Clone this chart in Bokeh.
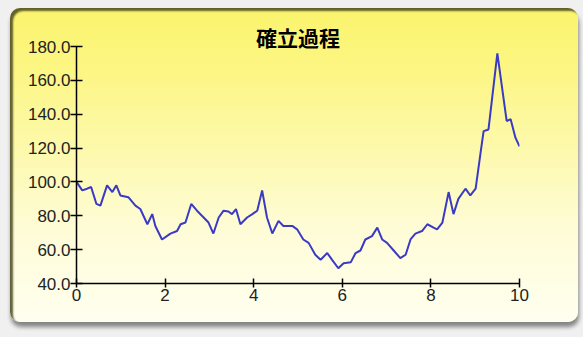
from bokeh.plotting import figure
from bokeh.models import Range1d, FixedTicker, PrintfTickFormatter, Column
from bokeh.embed import file_html
from bokeh.resources import INLINE

# Sample path of the process
t_values = [0, 0.13, 0.24, 0.33, 0.45, 0.54, 0.69, 0.81, 0.90, 0.99,
            1.17, 1.33, 1.44, 1.60, 1.71, 1.78, 1.93, 2.12, 2.27, 2.35,
            2.46, 2.59, 2.72, 2.87, 2.98, 3.09, 3.21, 3.32, 3.43, 3.51,
            3.60, 3.70, 3.85, 3.97, 4.08, 4.19, 4.30, 4.42, 4.56, 4.67,
            4.87, 4.98, 5.12, 5.24, 5.39, 5.51, 5.66, 5.77, 5.91, 6.03,
            6.19, 6.30, 6.41, 6.52, 6.67, 6.79, 6.90, 7.01, 7.16, 7.31,
            7.43, 7.54, 7.65, 7.80, 7.92, 8.06, 8.14, 8.26, 8.40, 8.51,
            8.62, 8.78, 8.89, 9.01, 9.12, 9.19, 9.30, 9.50, 9.71, 9.80,
            9.91, 10.0]
path_values = [100, 95, 96, 97, 87, 86, 98, 94, 98, 92,
               91, 86, 84, 75, 81, 74, 66, 69.5, 71, 75,
               76, 87, 83, 79, 76, 69.5, 79, 83, 82.5, 81,
               84, 75, 79, 81, 83, 95, 79, 69.5, 77, 74,
               74, 72, 66, 64, 57, 54, 58, 54, 49, 52,
               52.5, 58, 59.5, 66, 68, 73, 66, 64, 59.5, 55,
               57, 66, 69.5, 71, 75, 73, 72, 76, 94, 81,
               90, 96, 92, 96, 117, 130, 131, 176, 136, 137,
               126, 121]

x_ticks = [0, 2, 4, 6, 8, 10]
y_ticks = [40, 60, 80, 100, 120, 140, 160, 180]
title_text = "確立過程"

p = figure(width=568, height=314, output_backend="svg", toolbar_location=None,
           x_range=Range1d(0, 10), y_range=Range1d(40, 180),
           min_border_left=66, min_border_right=59,
           min_border_top=38, min_border_bottom=39,
           margin=(8, 5, 15, 10))

p.title.text = title_text
p.title.align = "center"
p.title.text_font = "Noto Sans CJK JP"
p.title.text_font_style = "bold"
p.title.text_font_size = "21px"
p.title.text_color = "#000000"
p.title.standoff = -10

p.border_fill_color = None
p.background_fill_color = None
p.outline_line_color = None
p.grid.visible = False

p.styles = {
    "border-radius": "10px",
    "background": "linear-gradient(to bottom, #fbf46c 0%, #fcf684 20%, #fdf9ac 45%, #fefcd6 70%, #fffff0 100%)",
    "box-shadow": "inset 3px 3px 2px rgba(70, 70, 30, 0.85), 1px 5px 4px rgba(0, 0, 0, 0.45)",
}

p.line(t_values, path_values, line_color="#3a3ac4", line_width=2)

for ax in (p.xaxis[0], p.yaxis[0]):
    ax.axis_line_color = "#000000"
    ax.axis_line_width = 1.5
    ax.major_tick_line_color = "#000000"
    ax.major_tick_line_width = 1.5
    ax.minor_tick_line_color = None
    ax.major_label_text_font = "Liberation Sans"
    ax.major_label_text_font_size = "17px"
    ax.major_label_text_color = "#222222"

p.xaxis.ticker = FixedTicker(ticks=x_ticks)
p.xaxis.major_tick_in = 5
p.xaxis.major_tick_out = 4
p.xaxis.major_label_standoff = 1

p.yaxis.ticker = FixedTicker(ticks=y_ticks)
p.yaxis.formatter = PrintfTickFormatter(format="%.1f")
p.yaxis.major_tick_in = 6
p.yaxis.major_tick_out = 6
p.yaxis.major_label_standoff = 0

page = Column(children=[p], width=583, height=337,
              styles={"background": "#f0f0f0"})

open("out.html", "w").write(file_html(page, INLINE))
